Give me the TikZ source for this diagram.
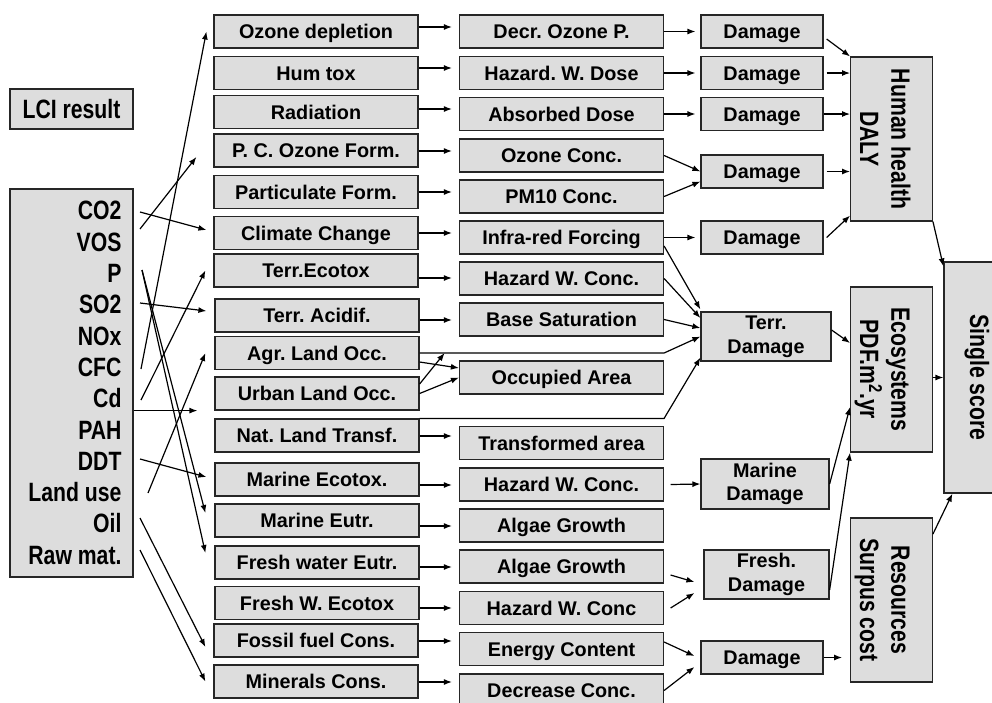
\documentclass[tikz,border=0pt]{standalone}
\usepackage{graphicx}
\usepackage{fontspec}
\setmainfont{Liberation Sans}
\newfontfamily\condfont{Liberation Sans}[FakeStretch=0.8]
\usetikzlibrary{arrows.meta}
\definecolor{boxgray}{RGB}{221,221,221}
\newcommand{\vtext}[2]{\rotatebox{-90}{\begin{tabular}{@{}c@{}}\rule{0pt}{41pt}#1\\#2\end{tabular}}}
\frenchspacing
\begin{document}
\begin{tikzpicture}[x=1pt,y=-1pt,line width=1.2pt,>={Latex[length=8pt,width=6pt]},
	greybox/.style={draw=black!85,line width=1.2pt,fill=boxgray,inner sep=0pt,font=\frenchspacing\fontsize{19.8}{23.8}\selectfont\bfseries},
	imp/.style={greybox,minimum width=204pt,minimum height=33pt,text height=14.5pt,text depth=0pt},
	dmg/.style={imp,minimum width=122pt},
	two/.style={greybox,align=center},
	big/.style={greybox,font=\frenchspacing\condfont\fontsize{26.5}{31.3}\selectfont\bfseries},
	side/.style={big,minimum width=65pt}]
		\useasboundingbox (0,0) rectangle (992,702);
		\node[big,minimum width=123pt,minimum height=40pt] (lci) at (71.5,109) {LCI result};
		\node[big,minimum width=123pt,minimum height=388pt,text width=100pt,align=flush right] (inv) at (71.5,383) {CO2\\VOS\\P\\SO2\\NOx\\CFC\\Cd\\PAH\\DDT\\Land use\\Oil\\Raw mat.};
		\node[imp] (oz) at (316,31.5) {Ozone depletion};
		\node[imp] (hum) at (316,73) {Hum tox};
		\node[imp] (rad) at (316,112) {Radiation};
		\node[imp] (pco) at (316,150.5) {P. C. Ozone Form.};
		\node[imp] (pmf) at (316,192) {Particulate Form.};
		\node[imp] (cc) at (316,233) {Climate Change};
		\node[imp] (tet) at (316,270.5) {Terr.Ecotox};
		\node[imp] (tac) at (317,315.5) {Terr. Acidif.};
		\node[imp] (agr) at (317,353) {Agr. Land Occ.};
		\node[imp] (urb) at (317,393.5) {Urban Land Occ.};
		\node[imp] (nlt) at (317,435.5) {Nat. Land Transf.};
		\node[imp] (mec) at (317,479.5) {Marine Ecotox.};
		\node[imp] (meu) at (317,520.5) {Marine Eutr.};
		\node[imp] (fwe) at (317,562.5) {Fresh water Eutr.};
		\node[imp] (fwec) at (317,603) {Fresh W. Ecotox};
		\node[imp] (fos) at (316,640.5) {Fossil fuel Cons.};
		\node[imp] (min) at (316,681.5) {Minerals Cons.};
		\node[imp] (doz) at (561.5,31.5) {Decr. Ozone P.};
		\node[imp] (hwd) at (561.5,73) {Hazard. W. Dose};
		\node[imp] (abd) at (561.5,114) {Absorbed Dose};
		\node[imp] (ozc) at (561.5,155.5) {Ozone Conc.};
		\node[imp] (pmc) at (561.5,196.5) {PM10 Conc.};
		\node[imp] (irf) at (561.5,237.5) {Infra-red Forcing};
		\node[imp] (hwc) at (561.5,278.5) {Hazard W. Conc.};
		\node[imp] (bs) at (561.5,319.5) {Base Saturation};
		\node[imp] (occ) at (561.5,377.5) {Occupied Area};
		\node[imp] (tra) at (561.5,443) {Transformed area};
		\node[imp] (hwcm) at (561.5,484.5) {Hazard W. Conc.};
		\node[imp] (algm) at (561.5,525.5) {Algae Growth};
		\node[imp] (algf) at (561.5,566.5) {Algae Growth};
		\node[imp] (hwcf) at (561.5,608) {Hazard W. Conc};
		\node[imp] (enc) at (561.5,649) {Energy Content};
		\node[imp] (dec) at (561.5,690.5) {Decrease Conc.};
		\node[dmg] (d1) at (762,31.5) {Damage};
		\node[dmg] (d2) at (762,73) {Damage};
		\node[dmg] (d3) at (762,114) {Damage};
		\node[dmg] (d4) at (762,171.5) {Damage};
		\node[dmg] (d5) at (762,237.5) {Damage};
		\node[two,minimum width=130pt,minimum height=49pt] (td) at (766,336.5) {Terr.\\Damage};
		\node[two,minimum width=128pt,minimum height=50pt] (md) at (765,484) {Marine\\Damage};
		\node[two,minimum width=125pt,minimum height=49pt] (fd) at (766.5,574.5) {Fresh.\\Damage};
		\node[dmg] (dr) at (762,657.5) {Damage};
		\node[side,minimum height=164pt] (hh) at (891.5,139) {\vtext{Human health}{DALY}};
		\node[side,minimum height=165pt] (eco) at (891.5,369.5) {\vtext{Ecosystems}{PDF.m\textsuperscript{2}.yr}};
		\node[side,minimum height=164pt] (res) at (891.5,600) {\vtext{Resources}{Surpus cost}};
		\node[big,minimum width=66pt,minimum height=231pt] (ss) at (977,377.5) {\rotatebox{-90}{Single score}};
		\coordinate (co2) at (140,212);
		\coordinate (vos) at (140,229);
		\coordinate (p) at (142,270);
		\coordinate (so2) at (140,303);
		\coordinate (cfc) at (141,369);
		\coordinate (cd) at (141,400);
		\coordinate (ddt) at (140,459);
		\coordinate (land) at (148,493);
		\coordinate (oil) at (140,518);
		\coordinate (raw) at (140,550);
		\draw[->] (cfc) -- ([xshift=-7pt]oz.west);
		\draw[->] (vos) -- ([xshift=-17pt,yshift=-6.5pt]pco.west);
		\draw[->] (co2) -- ([xshift=-7pt,yshift=3pt]cc.west);
		\draw[->] (p) -- ([xshift=-9pt,yshift=7.5pt]meu.west);
		\draw[->] (p) -- ([xshift=-9pt,yshift=9.5pt]fwe.west);
		\draw[->] (so2) -- ([xshift=-8pt,yshift=4.5pt]tac.west);
		\draw[->] (cd) -- ([xshift=-8pt]tet.west);
		\draw[->] (inv.east |- urb.south) -- ([xshift=-17pt]urb.south west);
		\draw[->] (land) -- ([xshift=-9pt]agr.west);
		\draw[->] (ddt) -- ([xshift=-8pt,yshift=2.5pt]mec.west);
		\draw[->] (oil) -- ([xshift=-8pt,yshift=-6.5pt]fos.west);
		\draw[->] (raw) -- ([xshift=-8pt]min.west);
		\foreach \a/\b/\y in {oz/doz/27,hum/hwd/68,rad/abd/109,pco/ozc/151,pmf/pmc/192,cc/irf/233,tet/hwc/278,tac/bs/320,nlt/tra/436,mec/hwcm/485,meu/algm/526,fwe/algf/567,fwec/hwcf/608,fos/enc/641,min/dec/682}
			\draw[->,shorten >=7pt] (\a.east |- 0,\y) -- (\b.west |- 0,\y);
		\draw[->] (agr.east) -- (agr.east -| bs.east) -- (td.west);
		\draw[->] ([yshift=-9pt]agr.east) -- ([yshift=9.5pt]occ.west);
		\draw[->] (urb.east) -- (occ.west);
		\draw[->] ([yshift=9.5pt]urb.east) -- ([xshift=25pt]agr.east);
		\draw[->] (nlt.north east) -- (nlt.north east -| bs.east) -- ([yshift=4pt]td.south west);
		\draw[->,shorten >=5pt] (doz) -- (d1);
		\draw[->,shorten >=5pt] (hwd) -- (d2);
		\draw[->,shorten >=5pt] (abd) -- (d3);
		\draw[->] (ozc.east) -- (d4.west);
		\draw[->] (pmc.east) -- ([yshift=-10pt]d4.west);
		\draw[->,shorten >=5pt] (irf) -- (d5);
		\draw[->] ([yshift=-8.5pt]irf.east) -- ([yshift=2pt]td.north west);
		\draw[->] (hwc.east) -- ([yshift=18.5pt]td.west);
		\draw[->] (bs.east) -- ([yshift=8.5pt]td.west);
		\draw[->] ([xshift=6.5pt]hwcm.east) -- (md.west);
		\draw[->] ([xshift=6.5pt,yshift=-8.5pt]algf.east) -- ([xshift=-9pt,yshift=-7.5pt]fd.west);
		\draw[->] ([xshift=6.5pt]hwcf.east) -- ([xshift=-9pt,yshift=-18.5pt]fd.west);
		\draw[->] ([yshift=7pt]enc.east) -- ([xshift=-6pt,yshift=1.5pt]dr.west);
		\draw[->] (dec.east) -- ([xshift=-6pt,yshift=-9.5pt]dr.west);
		\draw[->] ([xshift=3pt,yshift=-7.5pt]d1.east) -- (hh.north west);
		\draw[->] ([xshift=3pt]d2.east) -- (hh.west |- d2.east);
		\draw[->] (d3.east) -- (hh.west |- d3.east);
		\draw[->] ([xshift=3pt]d4.east) -- (hh.west |- d4.east);
		\draw[->] ([xshift=3pt]d5.east) -- ([yshift=6pt]hh.south west);
		\draw[->] ([yshift=6.5pt]td.east) -- ([yshift=26.5pt]eco.west);
		\draw[->] (md.east) -- ([yshift=-37.5pt]eco.west);
		\draw[->] ([yshift=-15.5pt]fd.east) -- (eco.south west);
		\draw[->,shorten >=8pt] (dr.east) -- (dr.east -| res.west);
		\draw[->] (hh.south east) -- ([yshift=-5pt]ss.north west);
		\draw[->] (eco.east |- ss.west) -- (ss.west);
		\draw[->] ([yshift=66pt]res.east) -- ([xshift=9pt]ss.south west);
\end{tikzpicture}
\end{document}
